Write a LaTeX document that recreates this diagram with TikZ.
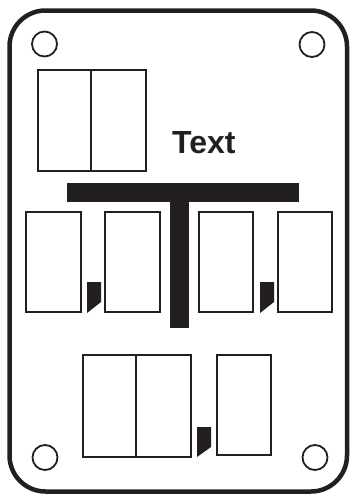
\documentclass[tikz,border=0pt]{standalone}
\usepackage{fontspec}
\setsansfont{Liberation Sans}
\usepackage{xcolor}
\definecolor{Ink}{HTML}{231F20}
\usetikzlibrary{positioning}

\begin{document}
\begin{tikzpicture}[x=1pt, y=-1pt,
  plate/.style={draw=Ink, line width=4.5pt, rounded corners=36pt, fill=white},
  hole/.style={draw=Ink, line width=1.8pt},
  cell/.style={draw=Ink, line width=2.4pt},
  solid/.style={fill=Ink, draw=none},
  lbl/.style={font=\sffamily\bfseries\fontsize{32}{36}\selectfont, text=Ink, inner sep=0pt}
]
\useasboundingbox (0,0) rectangle (350,496);

%% ---- Plate and holes ----
\draw[plate] (9.5,10.5) rectangle (347,491.5);
\draw[hole] (44.5,44) circle (12.5);
\draw[hole] (312,44.5) circle (12.5);
\draw[hole] (45,457.5) circle (12.5);
\draw[hole] (315,457.5) circle (12.5);

%% ---- Top double cell + label ----
\draw[cell] (38.2,70.2) rectangle (145.8,170.8);
\draw[cell] (91,70.2) -- (91,170.8);
\node[lbl, anchor=base west] (label) at (172,153) {Text};

%% ---- T bar ----
\fill[solid] (67,183) rectangle (299,202);
\fill[solid] (170,202) rectangle (189,328);

%% ---- Middle row ----
\foreach \xa/\xb in {25/82, 104/161, 198/254, 277/333}
  \draw[cell] (\xa+1.2,212.2) rectangle (\xb-1.2,311.8);
\foreach \xc in {87, 260}
  \fill[solid] (\xc,282) -- (\xc+14,282) -- (\xc+14,302) -- (\xc,313) -- cycle;

%% ---- Bottom row ----
\draw[cell] (83.2,355.2) rectangle (190.8,456.8);
\draw[cell] (136,355.2) -- (136,456.8);
\draw[cell] (217.2,355.2) rectangle (270.8,454.8);
\fill[solid] (197,427) -- (211,427) -- (211,447) -- (197,457) -- cycle;

\end{tikzpicture}
\end{document}
